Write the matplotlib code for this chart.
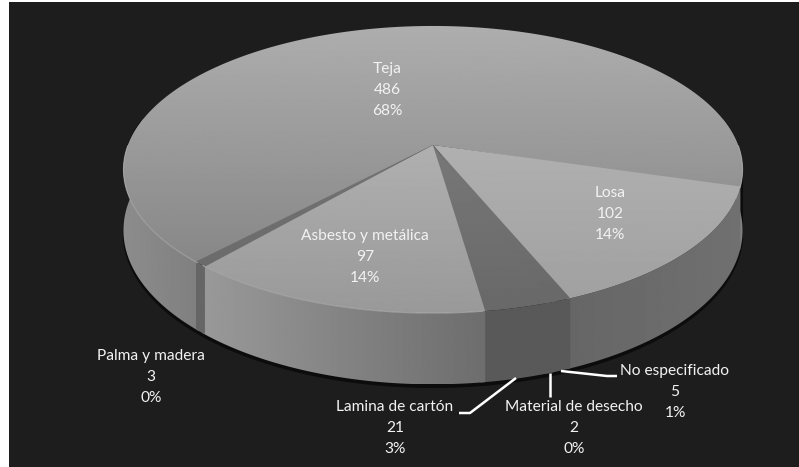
import numpy as np
import matplotlib
matplotlib.use('Agg')
import matplotlib.pyplot as plt
from matplotlib.patches import Polygon, Rectangle

plt.rcParams['font.family'] = ['Lato', 'DejaVu Sans']

# clockwise from the start of Teja
categories = ['Teja', 'Losa', 'No especificado', 'Material de desecho',
              'Lamina de cartón', 'Asbesto y metálica', 'Palma y madera']
values = [486, 102, 5, 2, 21, 97, 3]
percents = ['68%', '14%', '1%', '0%', '3%', '14%', '0%']

label_pos = [(387, 90), (610, 214), (675, 392), (574, 428),
             (395, 428), (365, 257), (151, 377)]

# grey (start, end) for the top (vertical) and side (left to right) of each slice
top_grey = [(0.68, 0.53), (0.69, 0.63), (0.47, 0.41), (0.47, 0.41),
            (0.47, 0.41), (0.69, 0.60), (0.45, 0.42)]
side_grey = [(0.55, 0.50), (0.40, 0.44), (0.35, 0.35), (0.35, 0.35),
             (0.35, 0.35), (0.60, 0.43), (0.40, 0.40)]

start_angle = 227.5
cx, cy = 433.0, 145.0
a, b, k = 305.0, 139.4, 0.171
depth = 59.0
overlap = np.radians(0.4)


def rim(t, z=0.0):
    # circle on a tilted plane, seen in perspective
    x = np.cos(t)
    y = np.sin(t)
    w = 1 + k * y
    return np.column_stack([cx + a * x / w, cy + (-b * y + depth * z) / w])


def fill_gradient(ax, pts, c0, c1, vertical):
    pts = np.asarray(pts)
    g = np.linspace(c0, c1, 128)
    g = g.reshape(-1, 1) if vertical else g.reshape(1, -1)
    x0, x1 = pts[:, 0].min(), pts[:, 0].max()
    y0, y1 = pts[:, 1].min(), pts[:, 1].max()
    im = ax.imshow(g, cmap='gray', vmin=0, vmax=1, aspect='auto',
                   extent=(x0, x1, y1, y0), interpolation='bilinear', zorder=3)
    patch = Polygon(pts, closed=True, transform=ax.transData, fc='none', ec='none')
    ax.add_patch(patch)
    im.set_clip_path(patch)


def front_runs(t):
    # the parts of an arc that face the viewer, as separate pieces
    mask = np.sin(t) < 0.2
    pieces = np.split(t, np.where(np.diff(mask.astype(int)) != 0)[0] + 1)
    return [p for p in pieces if np.sin(p[0]) < 0.2 and len(p) > 1]


fig = plt.figure(figsize=(7.99, 4.67), dpi=100, facecolor='white')
ax = fig.add_axes([0, 0, 1, 1])
ax.axis('off')
ax.add_patch(Rectangle((9, 2), 790, 465, fc='#1d1d1d', ec='none', zorder=0))

total = sum(values)
sweeps = np.radians(np.array(values) / total * 360)
starts = np.radians(start_angle) - np.concatenate([[0], np.cumsum(sweeps)[:-1]])
ends = starts - sweeps

# black shadow under the lower edge
tt = np.radians(np.linspace(-12, -190, 200))
low = rim(tt, 1.0) + [0, 3]
ax.add_patch(Polygon(np.vstack([rim(tt), low[::-1]]), fc='#0c0c0c', ec='#0c0c0c', zorder=2))

# sides first, the tops cover whatever is behind
for i in range(len(values)):
    t = np.linspace(starts[i] + overlap, ends[i] - overlap, 400)
    for piece in front_runs(t):
        poly = np.vstack([rim(piece), rim(piece[::-1], 1.0)])
        c0, c1 = side_grey[i]
        fill_gradient(ax, poly, c0, c1, False)

for i in range(len(values)):
    t = np.linspace(starts[i] + overlap, ends[i] - overlap, 240)
    poly = np.vstack([[[cx, cy]], rim(t)])
    c0, c1 = top_grey[i]
    fill_gradient(ax, poly, c0, c1, True)

# lighter edge where the top meets the side
for i in [0, 5]:
    t = np.linspace(starts[i], ends[i], 400)
    for piece in front_runs(t):
        piece = piece[np.sin(piece) < 0]
        if len(piece) > 1:
            e = rim(piece)
            ax.plot(e[:, 0], e[:, 1], color='#b4b4b4', lw=0.8, alpha=0.7, zorder=4)

# leader lines
leaders = [([617, 607, 561], [376, 376, 371]),
           ([550, 550], [397, 373]),
           ([459, 470, 516], [413, 413, 378])]
for xs, ys in leaders:
    ax.plot(xs, ys, color='white', lw=1.8, zorder=5, solid_capstyle='butt')

for name, val, pct, pos in zip(categories, values, percents, label_pos):
    ax.text(pos[0], pos[1], f'{name}\n{val}\n{pct}', color='#f2f2f2', fontsize=11.2,
            ha='center', va='center', linespacing=1.63, zorder=6)

ax.set_xlim(0, 799)
ax.set_ylim(467, 0)
fig.savefig('out.png', dpi=100, facecolor='white')
